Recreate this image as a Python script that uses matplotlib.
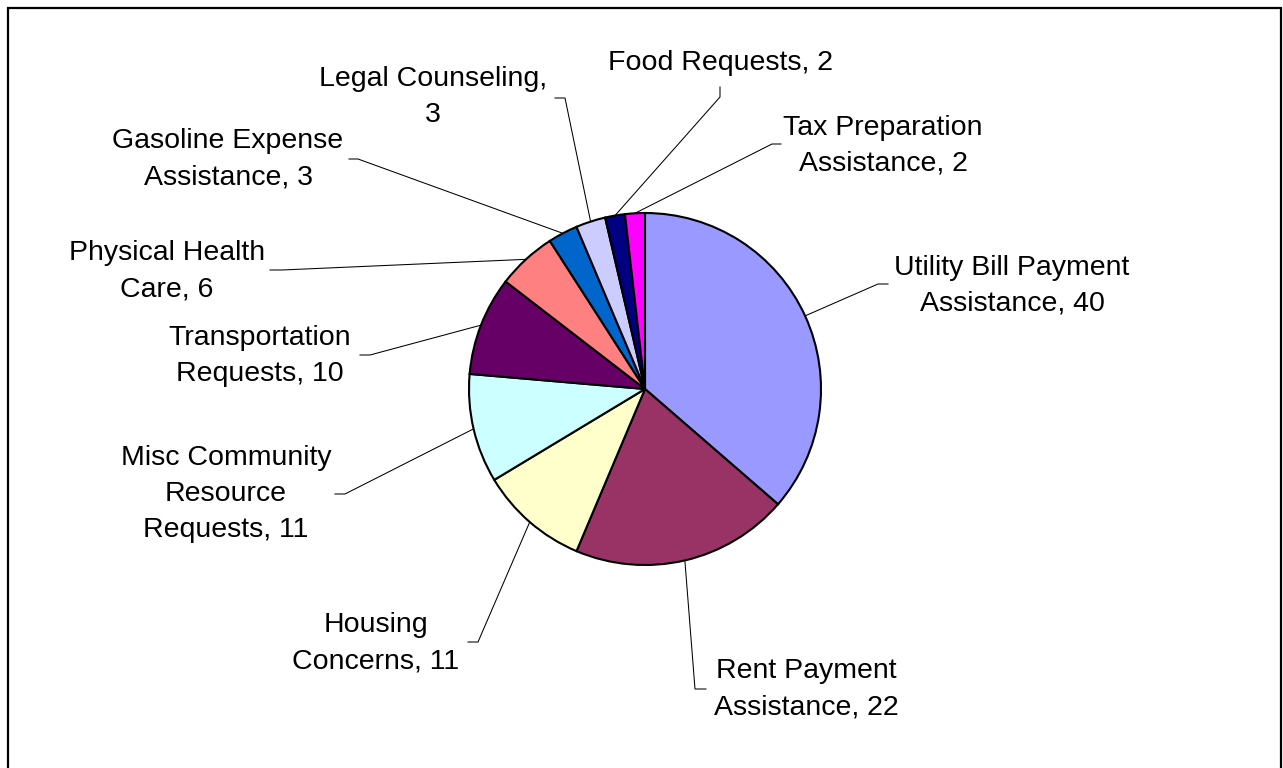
import matplotlib
matplotlib.use("Agg")
import numpy as np
import matplotlib.pyplot as plt
from matplotlib.patches import Rectangle

plt.rcParams["font.family"] = ["Liberation Sans", "DejaVu Sans"]

# ── data ──────────────────────────────────────────────────────────────────────
categories = [
    "Utility Bill Payment\nAssistance",
    "Rent Payment\nAssistance",
    "Housing\nConcerns",
    "Misc Community\nResource\nRequests",
    "Transportation\nRequests",
    "Physical Health\nCare",
    "Gasoline Expense\nAssistance",
    "Legal Counseling,\n",
    "Food Requests",
    "Tax Preparation\nAssistance",
]
counts = [40, 22, 11, 11, 10, 6, 3, 3, 2, 2]
colors = ["#9999FF", "#993366", "#FFFFCC", "#CCFFFF", "#660066",
          "#FF8080", "#0066CC", "#CCCCFF", "#000080", "#FF00FF"]

# label layout (image pixels, y from top): text centre, elbow, stub end
text_pos = [(1012, 286), (806, 689), (376, 643), (226, 494), (260, 356),
            (167, 271), (228, 159), (433, 97), (720, 63), (883, 146)]
elbow_pos = [(878, 284), (695, 689), (478, 642), (345, 494), (370, 355),
             (282, 270), (358, 159), (565, 98), (720, 97), (772, 144)]
stub_pos = [(888, 284), (706, 689), (468, 642), (335, 494), (360, 355),
            (270, 270), (349, 159), (555, 98), (720, 87), (781, 144)]

W, H = 1283, 768
CX, CY, R = 645, 389, 176

fig = plt.figure(figsize=(W / 100, H / 100), dpi=100)
ax = fig.add_axes([0, 0, 1, 1])

def fy(y):
    return H - y

wedges, _ = ax.pie(
    counts, colors=colors, startangle=90, counterclock=False,
    center=(CX, fy(CY)), radius=R, frame=True,
    wedgeprops=dict(edgecolor="black", linewidth=1.5),
)
ax.set_xlim(0, W)
ax.set_ylim(0, H)
ax.set_aspect("equal")
ax.axis("off")

for w, cat, n, tp, ep, sp in zip(wedges, categories, counts,
                                 text_pos, elbow_pos, stub_pos):
    theta = np.deg2rad((w.theta1 + w.theta2) / 2)
    ax_x = CX + R * np.cos(theta)
    ax_y = fy(CY) + R * np.sin(theta)
    ax.plot([ax_x, ep[0], sp[0]], [ax_y, fy(ep[1]), fy(sp[1])],
            color="black", lw=0.75, solid_joinstyle="miter")
    if cat.endswith("\n"):
        label = f"{cat[:-1]}\n{n}"
    else:
        label = f"{cat}, {n}"
    ax.text(tp[0], fy(tp[1]), label, ha="center", va="center",
            fontsize=20.5, linespacing=1.5, color="black", multialignment="center")

# outer chart frame (bottom edge falls outside the image)
ax.add_patch(Rectangle((8, -20), W - 2 - 8, H - 8 + 20, fill=False,
                       edgecolor="black", lw=1.6, clip_on=False))

fig.savefig("out.png", dpi=100)
